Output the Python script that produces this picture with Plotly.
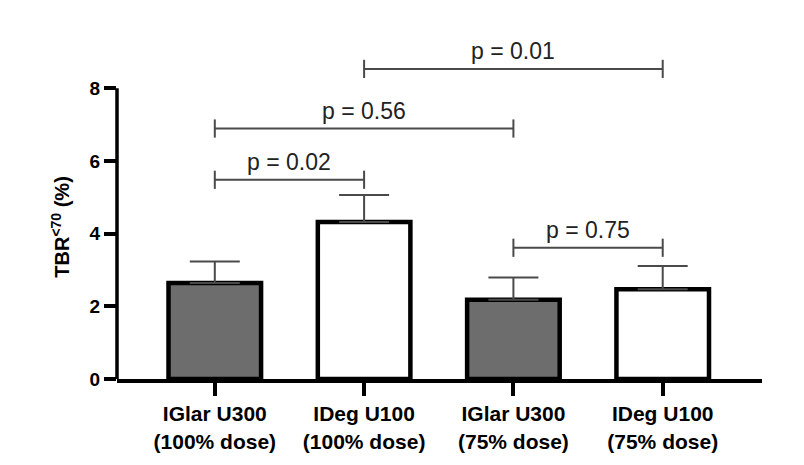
import plotly.graph_objects as go

categories = ["IGlar U300<br>(100% dose)", "IDeg U100<br>(100% dose)",
              "IGlar U300<br>(75% dose)", "IDeg U100<br>(75% dose)"]
means = [2.64, 4.32, 2.18, 2.47]
sem = [0.59, 0.74, 0.61, 0.64]
bar_colors = ["#6d6d6d", "#ffffff", "#6d6d6d", "#ffffff"]

y_ticks = [0, 2, 4, 6, 8]

bracket_from = [0, 0, 1, 2]
bracket_to = [1, 2, 3, 3]
bracket_heights = [5.48, 6.89, 8.53, 3.61]
bracket_labels = ["p = 0.02", "p = 0.56", "p = 0.01", "p = 0.75"]

FONT = "Arial, Liberation Sans, Helvetica, sans-serif"
LINE_GRAY = "#4a4a4a"

fig = go.Figure()

fig.add_trace(go.Bar(
    x=categories, y=means, width=0.62,
    marker=dict(color=bar_colors, line=dict(color="black", width=4.5)),
    error_y=dict(type="data", array=sem, arrayminus=[0] * len(sem), symmetric=False,
                 color=LINE_GRAY, thickness=2, width=25),
    showlegend=False, hoverinfo="skip",
))

for a, b, h, lab in zip(bracket_from, bracket_to, bracket_heights, bracket_labels):
    fig.add_trace(go.Scatter(
        x=[categories[a], categories[b]], y=[h, h], mode="lines+markers",
        line=dict(color=LINE_GRAY, width=2),
        marker=dict(symbol="line-ns", size=13, line=dict(color=LINE_GRAY, width=2)),
        showlegend=False, hoverinfo="skip", cliponaxis=False,
    ))
    fig.add_annotation(x=(a + b) / 2, y=h, xref="x", yref="y", text=lab,
                       showarrow=False, yanchor="middle", yshift=18,
                       font=dict(family=FONT, size=23, color="#222222"))

# y axis line limited to the tick range
fig.add_shape(type="line", xref="paper", yref="y", x0=0, x1=0,
              y0=y_ticks[0], y1=y_ticks[-1], line=dict(color="black", width=3.5))

fig.add_annotation(xref="paper", yref="paper", x=-0.088, y=0.437,
                   text="<b>TBR<sup>&lt;70</sup> (%)</b>", textangle=-90,
                   showarrow=False, xanchor="center", yanchor="middle",
                   font=dict(family=FONT, size=20, color="black"))

fig.update_layout(
    width=804, height=465,
    margin=dict(l=117, r=42, t=30, b=83),
    paper_bgcolor="white", plot_bgcolor="white",
    xaxis=dict(range=[-0.655, 3.665], showline=True, linecolor="black", linewidth=4,
               ticks="outside", ticklen=13, tickwidth=3.5, tickcolor="black",
               showgrid=False, zeroline=False,
               tickfont=dict(family=FONT, size=21, color="black", weight="bold")),
    yaxis=dict(range=[0, 9.6], showline=False, tickvals=y_ticks,
               ticks="outside", ticklen=12, tickwidth=3.5, tickcolor="black",
               showgrid=False, zeroline=False,
               tickfont=dict(family=FONT, size=19, color="black", weight="bold")),
)

fig.write_html("out.html")
